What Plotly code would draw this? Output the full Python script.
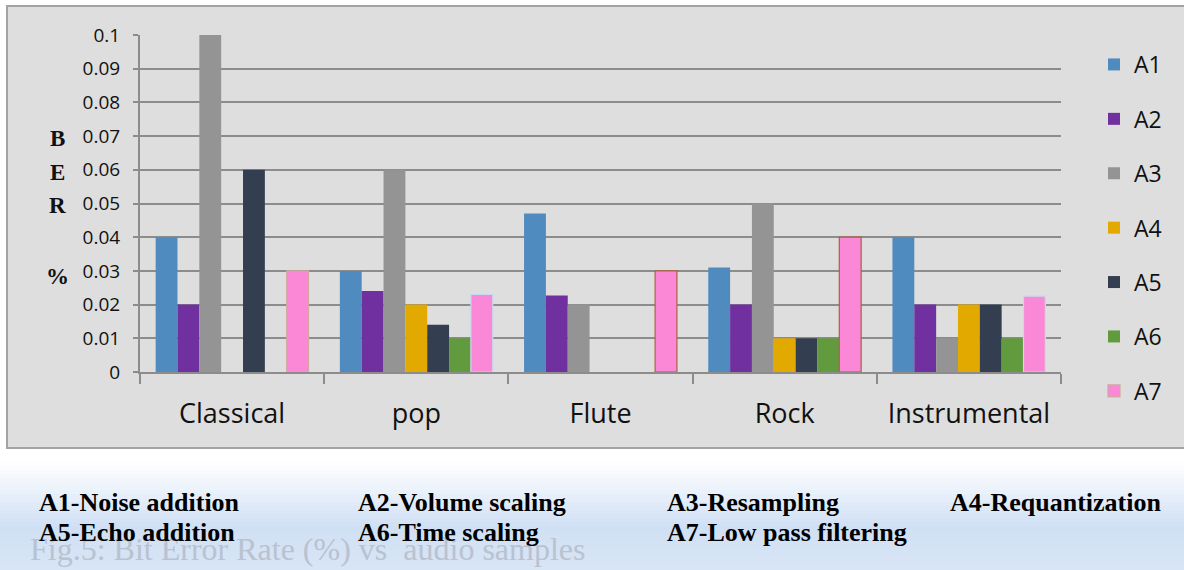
import plotly.graph_objects as go

# ---------------- data ----------------
categories = ["Classical", "pop", "Flute", "Rock", "Instrumental"]
series_names = ["A1", "A2", "A3", "A4", "A5", "A6", "A7"]
a1 = [0.040, 0.030, 0.047, 0.031, 0.040]
a2 = [0.020, 0.024, 0.0227, 0.020, 0.020]
a3 = [0.100, 0.060, 0.020, 0.050, 0.010]
a4 = [0.0, 0.020, 0.0, 0.010, 0.020]
a5 = [0.060, 0.014, 0.0, 0.010, 0.020]
a6 = [0.0, 0.010, 0.0, 0.010, 0.010]
a7 = [0.030, 0.023, 0.030, 0.040, 0.0225]
series_values = [a1, a2, a3, a4, a5, a6, a7]
y_tick_values = [0, 0.01, 0.02, 0.03, 0.04, 0.05, 0.06, 0.07, 0.08, 0.09, 0.1]
y_tick_labels = ["0", "0.01", "0.02", "0.03", "0.04", "0.05", "0.06", "0.07", "0.08", "0.09", "0.1"]
descriptions = [
    ["A1-Noise addition", "A2-Volume scaling", "A3-Resampling", "A4-Requantization"],
    ["A5-Echo addition", "A6-Time scaling", "A7-Low pass filtering"],
]
caption = "Fig.5: Bit Error Rate (%) vs  audio samples"

# ---------------- style ----------------
colors = ["#4f8bbf", "#7030a0", "#949494", "#e2a900", "#333e50", "#629a3e", "#fb88d6"]
a7_outline = ["#d0a8a0", "#c8d8f0", "#b0603c", "#b0603c", "#c8d8f0"]

W, H = 1184, 570
PL, PR, PT, PB = 140, 1061, 35, 372  # plot area in pixels


def px(x):
    return (x - PL) / (PR - PL)


def py(y):
    return (PB - y) / (PB - PT)


fig = go.Figure()
for i, (name, vals) in enumerate(zip(series_names, series_values)):
    if name == "A7":
        line = dict(color=a7_outline, width=1.2)
    else:
        line = dict(width=0)
    fig.add_trace(go.Bar(
        name=name, x=categories, y=vals,
        marker=dict(color=colors[i], line=line),
        legendgroup=name,
    ))

shapes = []
# outer grey chart box
shapes.append(dict(type="rect", xref="paper", yref="paper", layer="below",
                   x0=px(7), x1=px(1190), y0=py(448), y1=py(6),
                   fillcolor="#dedede", line=dict(color="#a3a3a3", width=2)))


# gradient band below chart
def lerp(c1, c2, t):
    a = [int(c1[i:i + 2], 16) for i in (1, 3, 5)]
    b = [int(c2[i:i + 2], 16) for i in (1, 3, 5)]
    return "#%02x%02x%02x" % tuple(round(a[k] + (b[k] - a[k]) * t) for k in range(3))


y = 450
step = 4
while y < H:
    if y < 460:
        c = "#ffffff"
    elif y < 525:
        c = lerp("#ffffff", "#d0e0f4", (y - 460) / 65)
    else:
        c = lerp("#d0e0f4", "#d8e5f5", (y - 525) / 45)
    shapes.append(dict(type="rect", xref="paper", yref="paper", layer="below",
                       x0=px(-10), x1=px(W + 10), y0=py(min(y + step + 1, H + 5)), y1=py(y),
                       fillcolor=c, line=dict(width=0)))
    y += step

annotations = []
# y axis title letters
for letter, yy in [("B", 138), ("E", 172), ("R", 205), ("%", 276)]:
    annotations.append(dict(text="<b>%s</b>" % letter,
                            xref="paper", yref="paper", x=px(57), y=py(yy),
                            xanchor="center", yanchor="middle", showarrow=False,
                            font=dict(family="Liberation Serif", size=23, color="#111111")))

# caption (drawn first so the legend texts sit on top)
annotations.append(dict(text=caption, xref="paper", yref="paper", x=px(28), y=py(549),
                        xanchor="left", yanchor="middle", showarrow=False,
                        font=dict(family="Liberation Serif", size=32, color="#b9c2d0")))

col_x = [37, 356, 665, 948]
row_y = [502, 532]
for r, row in enumerate(descriptions):
    for c, txt in enumerate(row):
        annotations.append(dict(text="<b>%s</b>" % txt, xref="paper", yref="paper",
                                x=px(col_x[c]), y=py(row_y[r]),
                                xanchor="left", yanchor="middle", showarrow=False,
                                font=dict(family="Liberation Serif", size=26, color="#000000")))

fig.update_layout(
    width=W, height=H,
    margin=dict(l=PL, r=W - PR, t=PT, b=H - PB, autoexpand=False),
    paper_bgcolor="#ffffff", plot_bgcolor="#ffffff",
    barmode="group", bargap=0.17, bargroupgap=0.0,
    font=dict(family="Open Sans", color="#111111"),
    shapes=shapes, annotations=annotations,
    legend=dict(x=px(1094), y=py(43), xanchor="left", yanchor="top",
                bgcolor="rgba(0,0,0,0)", font=dict(family="Open Sans", size=23, color="#111111"),
                tracegroupgap=21.5, itemwidth=30, maxheight=520),
    showlegend=True,
)
fig.update_xaxes(showline=True, linecolor="#8c8c8c", linewidth=2,
                 ticks="outside", tickson="boundaries", ticklen=10, tickwidth=2, tickcolor="#8c8c8c",
                 showgrid=False, tickfont=dict(family="Open Sans", size=27, color="#111111"),
                 ticklabelstandoff=17)
fig.update_yaxes(range=[0, 0.1], tickvals=y_tick_values, ticktext=y_tick_labels,
                 showline=True, linecolor="#8c8c8c", linewidth=2,
                 ticks="outside", ticklen=5, tickwidth=2, tickcolor="#8c8c8c",
                 showgrid=True, gridcolor="#8c8c8c", gridwidth=2, zeroline=False,
                 ticklabelstandoff=9,
                 tickfont=dict(family="Open Sans", size=19, color="#111111"))

fig.write_html("out.html", config={"displayModeBar": False},
               post_script="document.body.style.margin='0';document.body.style.overflow='hidden';")
